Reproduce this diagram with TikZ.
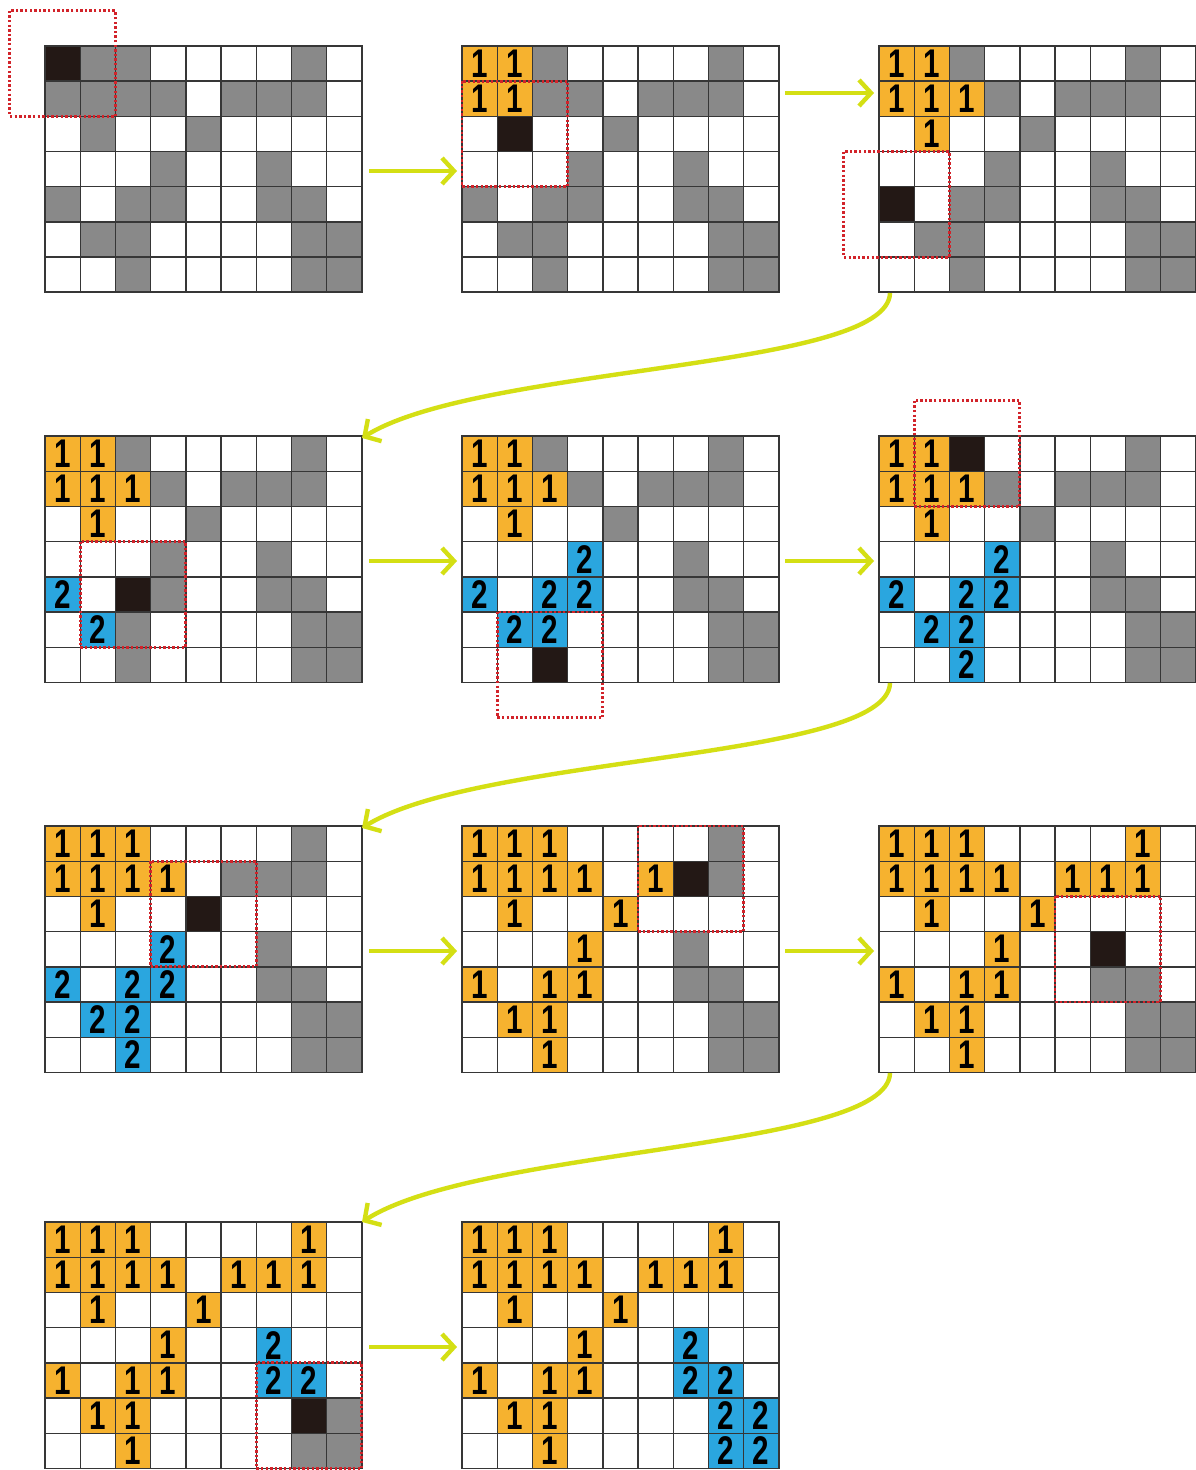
\documentclass[tikz,border=0pt]{standalone}
\usepackage{graphicx}
\usepackage{fontspec}
\setmainfont{Liberation Sans}
\newfontfamily\digfont[FakeBold=0.6]{Liberation Sans Bold}
\usetikzlibrary{arrows.meta,calc}
\definecolor{cgray}{HTML}{898989}
\definecolor{cblack}{HTML}{231815}
\definecolor{corange}{HTML}{F6B22F}
\definecolor{cblue}{HTML}{2AA6DF}
\definecolor{cline}{HTML}{363636}
\definecolor{cred}{HTML}{D2232A}
\definecolor{carrow}{HTML}{D4DF14}
\tikzset{
  cellline/.style={draw=cline, line width=0.7pt},
  outerline/.style={draw=cline, line width=0.9pt},
  digit/.style={inner sep=0pt, font=\fontsize{20}{20}\selectfont\bfseries},
  redbox/.style={draw=cred, line width=1.35pt, dash pattern=on 1.2pt off 1.1pt},
  flow/.style={draw=carrow, line width=2.2pt, -{Straight Barb[length=6pt,width=13pt]}},
  cells/.style={shift={(#1)}, x=17.6pt, y=-17.6pt},
}
\newcommand\myrow[3]{%
  \foreach \c [count=\i from 0] in {#3}{%
    \if\c G\fill[cgray] (\i,#2) rectangle ++(1,1);\fi
    \if\c B\fill[cblack] (\i,#2) rectangle ++(1,1);\fi
    \if\c 1\fill[corange] (\i,#2) rectangle ++(1,1);
      \node[digit] (#1-#2-\i) at (\i+0.5,#2+0.5) {\scalebox{0.74}[1]{1}};\fi
    \if\c 2\fill[cblue] (\i,#2) rectangle ++(1,1);
      \node[digit] (#1-#2-\i) at (\i+0.5,#2+0.5) {\scalebox{0.74}[1]{2}};\fi
  }%
}
\newcommand\mygrid[8]{%
  \begin{scope}[cells=#1]
    \myrow{#1}{0}{#2}
    \myrow{#1}{1}{#3}
    \myrow{#1}{2}{#4}
    \myrow{#1}{3}{#5}
    \myrow{#1}{4}{#6}
    \myrow{#1}{5}{#7}
    \myrow{#1}{6}{#8}
    \foreach \k in {1,...,8} \draw[cellline] (\k,0) -- (\k,7);
    \foreach \k in {1,...,6} \draw[cellline] (0,\k) -- (9,\k);
    \draw[outerline] (0,0) rectangle (9,7);
  \end{scope}%
}
\begin{document}
\begin{tikzpicture}[x=0.5pt,y=-0.5pt]
\useasboundingbox (0,0) rectangle (1195,1470);
\fill[white] (0,0) rectangle (1195,1470);
\coordinate (G1) at (45,46);
\coordinate (G2) at (462,46);
\coordinate (G3) at (879,46);
\coordinate (G4) at (45,436);
\coordinate (G5) at (462,436);
\coordinate (G6) at (879,436);
\coordinate (G7) at (45,826);
\coordinate (G8) at (462,826);
\coordinate (G9) at (879,826);
\coordinate (G10) at (45,1222);
\coordinate (G11) at (462,1222);

\mygrid{G1}{B,G,G,W,W,W,W,G,W}{G,G,G,G,W,G,G,G,W}{W,G,W,W,G,W,W,W,W}{W,W,W,G,W,W,G,W,W}{G,W,G,G,W,W,G,G,W}{W,G,G,W,W,W,W,G,G}{W,W,G,W,W,W,W,G,G}
\mygrid{G2}{1,1,G,W,W,W,W,G,W}{1,1,G,G,W,G,G,G,W}{W,B,W,W,G,W,W,W,W}{W,W,W,G,W,W,G,W,W}{G,W,G,G,W,W,G,G,W}{W,G,G,W,W,W,W,G,G}{W,W,G,W,W,W,W,G,G}
\mygrid{G3}{1,1,G,W,W,W,W,G,W}{1,1,1,G,W,G,G,G,W}{W,1,W,W,G,W,W,W,W}{W,W,W,G,W,W,G,W,W}{B,W,G,G,W,W,G,G,W}{W,G,G,W,W,W,W,G,G}{W,W,G,W,W,W,W,G,G}
\mygrid{G4}{1,1,G,W,W,W,W,G,W}{1,1,1,G,W,G,G,G,W}{W,1,W,W,G,W,W,W,W}{W,W,W,G,W,W,G,W,W}{2,W,B,G,W,W,G,G,W}{W,2,G,W,W,W,W,G,G}{W,W,G,W,W,W,W,G,G}
\mygrid{G5}{1,1,G,W,W,W,W,G,W}{1,1,1,G,W,G,G,G,W}{W,1,W,W,G,W,W,W,W}{W,W,W,2,W,W,G,W,W}{2,W,2,2,W,W,G,G,W}{W,2,2,W,W,W,W,G,G}{W,W,B,W,W,W,W,G,G}
\mygrid{G6}{1,1,B,W,W,W,W,G,W}{1,1,1,G,W,G,G,G,W}{W,1,W,W,G,W,W,W,W}{W,W,W,2,W,W,G,W,W}{2,W,2,2,W,W,G,G,W}{W,2,2,W,W,W,W,G,G}{W,W,2,W,W,W,W,G,G}
\mygrid{G7}{1,1,1,W,W,W,W,G,W}{1,1,1,1,W,G,G,G,W}{W,1,W,W,B,W,W,W,W}{W,W,W,2,W,W,G,W,W}{2,W,2,2,W,W,G,G,W}{W,2,2,W,W,W,W,G,G}{W,W,2,W,W,W,W,G,G}
\mygrid{G8}{1,1,1,W,W,W,W,G,W}{1,1,1,1,W,1,B,G,W}{W,1,W,W,1,W,W,W,W}{W,W,W,1,W,W,G,W,W}{1,W,1,1,W,W,G,G,W}{W,1,1,W,W,W,W,G,G}{W,W,1,W,W,W,W,G,G}
\mygrid{G9}{1,1,1,W,W,W,W,1,W}{1,1,1,1,W,1,1,1,W}{W,1,W,W,1,W,W,W,W}{W,W,W,1,W,W,B,W,W}{1,W,1,1,W,W,G,G,W}{W,1,1,W,W,W,W,G,G}{W,W,1,W,W,W,W,G,G}
\mygrid{G10}{1,1,1,W,W,W,W,1,W}{1,1,1,1,W,1,1,1,W}{W,1,W,W,1,W,W,W,W}{W,W,W,1,W,W,2,W,W}{1,W,1,1,W,W,2,2,W}{W,1,1,W,W,W,W,B,G}{W,W,1,W,W,W,W,G,G}
\mygrid{G11}{1,1,1,W,W,W,W,1,W}{1,1,1,1,W,1,1,1,W}{W,1,W,W,1,W,W,W,W}{W,W,W,1,W,W,2,W,W}{1,W,1,1,W,W,2,2,W}{W,1,1,W,W,W,W,2,2}{W,W,1,W,W,W,W,2,2}

% red dotted windows
\draw[redbox, cells=G1] (-1,-1) rectangle (2,2);
\draw[redbox, cells=G2] (0,1) rectangle (3,4);
\draw[redbox, cells=G3] (-1,3) rectangle (2,6);
\draw[redbox, cells=G4] (1,3) rectangle (4,6);
\draw[redbox, cells=G5] (1,5) rectangle (4,8);
\draw[redbox, cells=G6] (1,-1) rectangle (4,2);
\draw[redbox, cells=G7] (3,1) rectangle (6,4);
\draw[redbox, cells=G8] (5,0) rectangle (8,3);
\draw[redbox, cells=G9] (5,2) rectangle (8,5);
\draw[redbox, cells=G10] (6,4) rectangle (9,7);

% straight arrows
\coordinate (a1s) at (369,171); \coordinate (a1e) at (457,171);
\coordinate (a2s) at (785,93);  \coordinate (a2e) at (874,93);
\coordinate (a3s) at (369,561); \coordinate (a3e) at (457,561);
\coordinate (a4s) at (785,561); \coordinate (a4e) at (874,561);
\coordinate (a5s) at (369,951); \coordinate (a5e) at (457,951);
\coordinate (a6s) at (785,951); \coordinate (a6e) at (874,951);
\coordinate (a7s) at (369,1347); \coordinate (a7e) at (457,1347);
\foreach \n in {1,...,7} \draw[flow] (a\n s) -- (a\n e);

% curved arrows
\coordinate (c1s) at (890,293);  \coordinate (c1e) at (362,438);
\coordinate (c2s) at (890,683);  \coordinate (c2e) at (362,828);
\coordinate (c3s) at (890,1073); \coordinate (c3e) at (362,1222);
\draw[flow] (c1s) .. controls (888,370) and (480,365) .. (c1e);
\draw[flow] (c2s) .. controls (888,760) and (480,755) .. (c2e);
\draw[flow] (c3s) .. controls (888,1150) and (480,1147) .. (c3e);
\end{tikzpicture}
\end{document}
